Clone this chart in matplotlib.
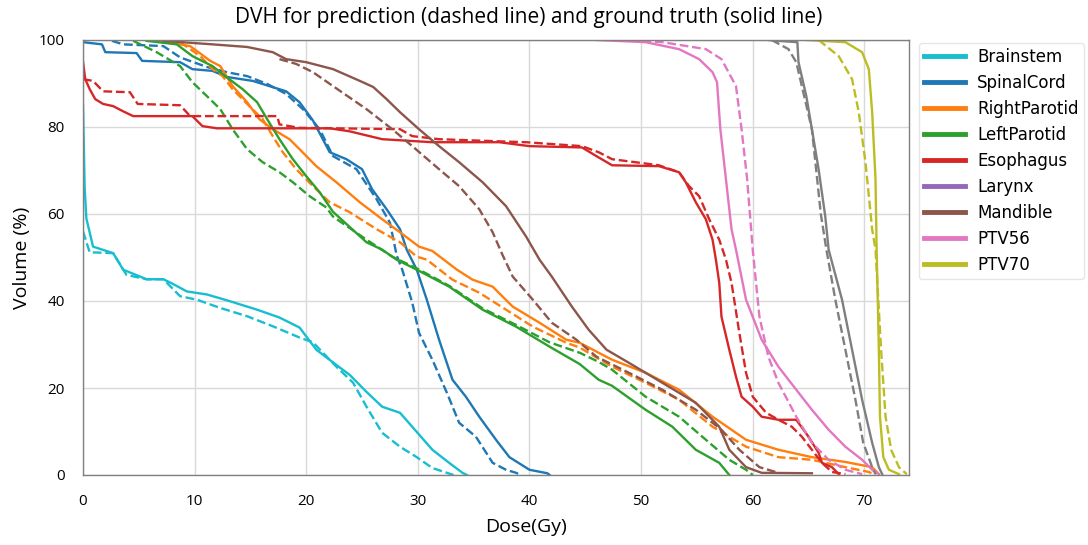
import matplotlib
matplotlib.use("Agg")
import matplotlib.pyplot as plt

# DVH points: (dose Gy, volume %)
# "gt" = ground truth (solid), "pred" = prediction (dashed)
brainstem_gt = [(0, 85), (0.15, 66), (0.3, 59), (0.9, 52.5), (2.7, 51), (3.6, 47.2), (5.7, 45),
                (7.2, 45), (8, 44), (9.3, 42.2), (11.1, 41.5), (13.1, 40), (15.6, 38), (17.6, 36.2),
                (19.4, 33.9), (20.9, 28.8), (22.7, 25.3), (23.9, 23), (25.4, 19.1), (26.8, 15.7),
                (28.4, 14.3), (29.9, 9.9), (31.3, 5.8), (32.8, 2.8), (34, 0.5), (34.4, 0)]
brainstem_pred = [(0, 56), (0.6, 51.2), (2.7, 51), (3.9, 46), (5.7, 45), (7.2, 45), (8.7, 41.1),
                  (10.2, 40.3), (12.3, 38.4), (14.7, 36.5), (17, 34.2), (19.4, 31.6), (20.6, 30.5),
                  (22.7, 24.9), (24.2, 21.2), (25.4, 15.7), (26.8, 9.7), (28.4, 6.5), (29.9, 4.1),
                  (31.3, 1.6), (32.6, 0.5), (33.2, 0)]

spinal_gt = [(0, 99.5), (1.7, 99), (2, 97.2), (4.8, 97), (5.3, 95.2), (8.7, 94.9), (9.8, 93.3),
             (11.6, 92.9), (12.9, 91.5), (15.2, 90.6), (16.7, 89.4), (18.2, 88.2), (19.4, 85.7),
             (20.6, 81.5), (22.1, 74.2), (23.6, 72.6), (25, 70.3), (25.9, 65.7), (27.2, 61.1),
             (28.4, 56.5), (29, 51.8), (29.9, 47.2), (30.8, 40.3), (31.9, 31.1), (33.1, 21.9),
             (34.3, 18), (35.5, 13.4), (37, 8.1), (38.2, 4.1), (40, 1.2), (41.6, 0.4), (41.8, 0)]
spinal_pred = [(2.6, 99.8), (3.6, 99), (7.2, 98.6), (8.7, 96), (11.1, 93.8), (12.9, 92.6),
               (14.7, 91.7), (16.5, 89.9), (18.2, 87.6), (19.7, 84.1), (21.2, 79.5), (22.4, 73.3),
               (24.5, 70.3), (26.3, 63.4), (27.5, 58), (28.1, 50.5), (28.6, 47.2), (29.5, 39.6),
               (30.1, 32.7), (31.3, 26.5), (32.6, 18.9), (33.7, 12), (35.2, 8.8), (36.7, 2.8),
               (37.9, 1.2), (38.8, 0.5), (39.2, 0)]

rparotid_gt = [(6.9, 99.8), (9.6, 98.6), (11.4, 95.2), (12.3, 94), (13.4, 89.4), (14.7, 85.7),
               (15.8, 81.8), (17, 79.5), (18.5, 77.2), (19.4, 74.9), (20.9, 71), (22.7, 67.3),
               (24.8, 62.7), (26.8, 58.8), (28.4, 55.8), (30.1, 52.5), (31.3, 51.5), (33.5, 47.2),
               (34.9, 44.9), (36.7, 43.3), (38.5, 38.7), (40.9, 35), (43.3, 31.1), (44.5, 30.4),
               (46.2, 28.1), (47.4, 26.5), (50.4, 23.5), (53.4, 19.6), (56.4, 13.4), (59.4, 8.1),
               (62.3, 5.8), (65.3, 4.1), (68.3, 3), (70.7, 1.8), (71.3, 0.2)]
rparotid_pred = [(8.7, 99.5), (10.5, 96.3), (11.6, 93.3), (12.5, 91.7), (13.4, 88.7), (14.9, 84.8),
                 (16.1, 81.8), (17, 77.9), (17.9, 74.2), (19.1, 70.3), (20.6, 66.4), (22.1, 62.7),
                 (23.9, 60.4), (26.3, 56.5), (28.4, 53.5), (29.9, 50.2), (30.8, 49.5), (33.1, 44.9),
                 (35.5, 41.9), (37.9, 38), (40.3, 34.1), (43.3, 30.4), (44.5, 29.3), (47.4, 24.9),
                 (50.4, 21.2), (53.4, 17.3), (56.4, 11.1), (59.4, 6.5), (62.3, 4.1), (65.3, 3.5),
                 (68.3, 1.8), (70.4, 0.7), (71, 0)]

lparotid_gt = [(5.7, 99.8), (8.4, 99), (9.8, 96.3), (11.6, 94), (13.1, 91), (14.3, 88.7),
               (15.6, 85.7), (16.5, 81.8), (17.6, 77.2), (18.8, 72.6), (20, 68.7), (21.2, 65),
               (22.4, 60.5), (25.4, 53.5), (26.8, 51.8), (28.1, 49.5), (29.9, 47.2), (32.8, 43.3),
               (35.8, 38), (38.8, 34.1), (41.8, 29.5), (44.5, 25.5), (46.2, 21.9), (47.4, 20.5),
               (50.4, 15), (52.8, 11.1), (54.9, 5.8), (57, 2.8), (57.9, 0)]
lparotid_pred = [(4.5, 99.8), (6.6, 97.2), (8.7, 94), (9.8, 90.3), (11.1, 87.1), (12.3, 84.1),
                 (13.4, 79.5), (14.7, 74.9), (16.1, 71.9), (17.6, 69.6), (18.8, 67.3), (20.3, 64.1),
                 (21.8, 61.5), (22.4, 59.4), (25.4, 54.1), (27.7, 50.2), (29.9, 47.5), (32.8, 43.5),
                 (35.8, 38.3), (38.8, 34.5), (41.8, 30.5), (44.5, 28.1), (46.2, 26), (47.4, 24.2),
                 (50.4, 18), (53.4, 13.4), (55.8, 8.1), (57.9, 3.5), (59.4, 1.2), (60, 0)]

esoph_gt = [(0, 95), (0.2, 91), (0.6, 88.7), (1.1, 86.4), (1.8, 85.3), (2.7, 84.8), (3.6, 83.6),
            (4.5, 82.5), (9.8, 82.5), (10.7, 80.2), (12, 79.7), (22.1, 79.7), (23.9, 79),
            (26.8, 77.2), (31.3, 76.5), (37.3, 76.5), (40, 75.6), (44.7, 75.3), (46, 73.3),
            (47.4, 71.2), (51.6, 71), (53.4, 69.6), (54, 67.3), (54.9, 62.7), (55.8, 58.8),
            (56.4, 54.1), (56.7, 49.5), (57, 44.2), (57.2, 36.4), (57.9, 28.8), (58.5, 22.6),
            (59, 18), (60, 15.7), (60.8, 13.4), (62.3, 12.7), (63.9, 12.7), (65, 8.8), (65.9, 5.1),
            (66.2, 2.8), (67.1, 1.8), (67.7, 0.2)]
esoph_pred = [(0, 91), (0.9, 90.6), (1.8, 88.2), (4.2, 88), (4.9, 85.3), (8.7, 85), (9.6, 82.5),
              (17.4, 82.5), (17.6, 80.6), (19.4, 79.8), (28.4, 79.5), (29.5, 77.9), (31.9, 77.2),
              (37.3, 76.7), (39.7, 76.5), (44.7, 75.6), (46.2, 74.2), (47.4, 72.6), (51.6, 71.2),
              (53.4, 69.6), (54.3, 66.4), (55.2, 64.1), (56.1, 58.8), (57, 54.1), (57.6, 49.5),
              (58.1, 44.2), (58.8, 32.7), (59.4, 23.5), (60, 18), (61.2, 14.3), (62.3, 12.7),
              (63.5, 11.1), (64.4, 8.8), (65.3, 5.8), (66.2, 2.8), (67.1, 0.7), (68.3, 0.2)]

larynx_gt = []
larynx_pred = []

mandible_gt = [(7.2, 99.8), (11.6, 99), (14.7, 98.4), (17, 97.2), (18.2, 95.6), (20, 94.9),
               (22.4, 93.3), (24.8, 90.6), (26, 89.2), (27.2, 86.4), (28.4, 83.4), (30.1, 79.5),
               (31.9, 75.6), (33.7, 71.9), (35.8, 67.3), (37.9, 61.8), (39.7, 54.8), (40.9, 49.5),
               (42, 45.6), (43.8, 38.7), (45.3, 33.4), (46.9, 28.8), (48.9, 25.8), (51.9, 21.2),
               (54.9, 16.6), (57, 11.1), (57.9, 5.8), (59.4, 1.8), (60.8, 0.5), (65.3, 0.4)]
mandible_pred = [(17.6, 95.6), (19.1, 94.5), (20.6, 92.6), (22.4, 89.4), (25.4, 84.1), (27.7, 79.5),
                 (29.5, 75.6), (31.9, 70.3), (33.7, 66.4), (35.5, 61.1), (36.7, 55.8), (37.6, 50.5),
                 (38.5, 45.6), (40.3, 40.3), (42, 35), (44.2, 31.1), (46, 27.2), (48.9, 23.5),
                 (51.9, 19.6), (54.9, 15), (57.2, 10.4), (58.8, 5.8), (60.6, 1.8), (62.3, 0.5)]

ptv56_gt = [(46, 100), (50.4, 99.5), (53.4, 97.9), (55.2, 95.6), (56.4, 92.6), (56.8, 90.3),
            (57.1, 79.5), (57.6, 68), (58.1, 56.5), (58.5, 51.8), (59.4, 40.3), (60.8, 31.1),
            (62.3, 24.9), (63.9, 19.6), (65.3, 15), (66.8, 10.4), (68.3, 6.5), (69.8, 3.5),
            (70.7, 1.2), (71.3, 0.2)]
ptv56_pred = [(49, 100), (51.9, 99.5), (55.8, 97.9), (57.2, 95.6), (58.5, 89.4), (59, 79.5),
              (59.5, 68), (60, 51.8), (60.6, 36.4), (61.4, 27.2), (62.3, 21.2), (63.9, 13.4),
              (65.3, 7.4), (66.8, 3.5), (68.3, 1.2), (69.8, 0.2)]

ptv70_gt = [(64.8, 100), (68.3, 99.5), (69.8, 97.2), (70.4, 93.3), (70.7, 83.4), (71, 68),
            (71.1, 51.8), (71.3, 28.8), (71.4, 13.4), (71.7, 4.1), (72.2, 1.2), (73.1, 0.2)]
ptv70_pred = [(65.9, 100), (67.7, 96.3), (68.9, 91), (69.5, 83.4), (70.1, 71.9), (70.7, 56.5),
              (71, 51.8), (71.5, 28.8), (71.9, 13.4), (72.4, 5.8), (73.1, 1.8), (73.8, 0.2)]

# grey structure that is drawn but has no legend entry
other_gt = [(61.4, 100), (62.3, 99.8), (64, 99.5), (64.1, 94.9), (64.8, 87.1), (65.3, 79.5),
            (65.9, 70.3), (66.5, 59.4), (66.8, 51.8), (68, 40.3), (68.9, 28.8), (69.8, 17.3),
            (70.7, 7.4), (71.3, 1.8), (71.6, 0.2)]
other_pred = [(61.7, 100), (63.2, 97.9), (63.9, 94.9), (65.3, 79.5), (66.1, 60), (66.6, 51.8),
              (67.4, 40.3), (68.3, 28.8), (69.2, 17.3), (69.9, 7.4), (70.7, 1.8), (71, 0.2)]

names = ["Brainstem", "SpinalCord", "RightParotid", "LeftParotid", "Esophagus",
         "Larynx", "Mandible", "PTV56", "PTV70"]
colors = ["#17becf", "#1f77b4", "#ff7f0e", "#2ca02c", "#d62728",
          "#9467bd", "#8c564b", "#e377c2", "#bcbd22"]
gt_curves = [brainstem_gt, spinal_gt, rparotid_gt, lparotid_gt, esoph_gt,
             larynx_gt, mandible_gt, ptv56_gt, ptv70_gt]
pred_curves = [brainstem_pred, spinal_pred, rparotid_pred, lparotid_pred, esoph_pred,
               larynx_pred, mandible_pred, ptv56_pred, ptv70_pred]

xticks = [0, 10, 20, 30, 40, 50, 60, 70]
yticks = [0, 20, 40, 60, 80, 100]

fig = plt.figure(figsize=(10.88, 5.45), dpi=100)
ax = fig.add_axes([83 / 1088, 1 - 475 / 545, 826 / 1088, 435 / 545])

lw = 1.7
handles = []
for name, col, gt, pred in zip(names, colors, gt_curves, pred_curves):
    xs = [p[0] for p in gt]
    ys = [p[1] for p in gt]
    h, = ax.plot(xs, ys, "-", color=col, lw=lw, label=name)
    handles.append(h)
    xs = [p[0] for p in pred]
    ys = [p[1] for p in pred]
    ax.plot(xs, ys, "--", color=col, lw=lw)

ax.plot([p[0] for p in other_gt], [p[1] for p in other_gt], "-", color="#7f7f7f", lw=lw)
ax.plot([p[0] for p in other_pred], [p[1] for p in other_pred], "--", color="#7f7f7f", lw=lw)

ax.set_xlim(0, 74)
ax.set_ylim(0, 100)
ax.set_xticks(xticks)
ax.set_yticks(yticks)
ax.tick_params(length=0, labelsize=11, pad=14)
ax.tick_params(axis="y", pad=13)
for lab in ax.get_xticklabels() + ax.get_yticklabels():
    lab.set_family("Open Sans")
ax.grid(True, color="#d9d9d9", lw=1)
ax.set_axisbelow(True)
for s in ax.spines.values():
    s.set_color("#808080")
    s.set_linewidth(1)

fig.text(529 / 1088, 1 - 18 / 545, "DVH for prediction (dashed line) and ground truth (solid line)",
         ha="center", va="center", fontsize=15, family="Open Sans")
fig.text(526 / 1088, 1 - 527 / 545, "Dose(Gy)", ha="center", va="center",
         fontsize=14, family="Open Sans")
fig.text(22 / 1088, 1 - 258 / 545, "Volume (%)", ha="center", va="center",
         rotation=90, fontsize=14, family="Open Sans")

leg = fig.legend(handles=handles, loc="upper left", bbox_to_anchor=(919 / 1088, 1 - 43 / 545),
                 borderaxespad=0, fontsize=12, handlelength=2.45, handletextpad=0.75,
                 labelspacing=0.48, borderpad=0.3, frameon=True, fancybox=True)
for line in leg.get_lines():
    line.set_linewidth(3.5)
leg.get_frame().set_edgecolor("#e0e0e0")

fig.savefig("out.png", dpi=100)
